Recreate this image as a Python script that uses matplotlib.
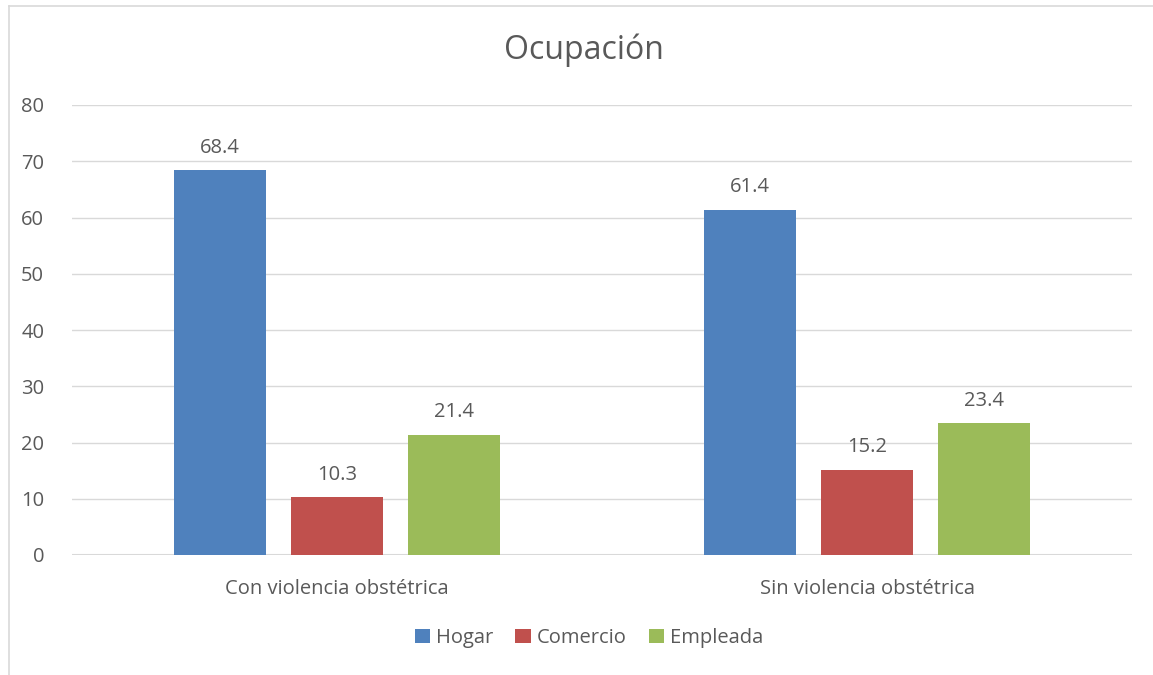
import numpy as np
import matplotlib.pyplot as plt
from matplotlib.lines import Line2D

categories = ["Con violencia obstétrica", "Sin violencia obstétrica"]
series_names = ["Hogar", "Comercio", "Empleada"]
hogar = [68.4, 61.4]
comercio = [10.3, 15.2]
empleada = [21.4, 23.4]
yticks = [0, 10, 20, 30, 40, 50, 60, 70, 80]

colors = ["#4F81BD", "#C0504D", "#9BBB59"]
text_col = "#595959"
grid_col = "#D9D9D9"

plt.rcParams['font.family'] = ['Open Sans', 'DejaVu Sans']

fig = plt.figure(figsize=(11.53, 6.75), dpi=100)
ax = fig.add_axes([72/1153, 1-555/675, (1132-72)/1153, (555-105)/675])

x = np.arange(len(categories))
width = 0.1736
step = 0.2208
for i, (name, vals) in enumerate(zip(series_names, [hogar, comercio, empleada])):
    pos = x + (i - 1) * step
    bars = ax.bar(pos, vals, width, color=colors[i], label=name, zorder=3)
    for b, v in zip(bars, vals):
        ax.text(b.get_x() + b.get_width()/2, v + 2.2, "%.1f" % v,
                ha='center', va='bottom', fontsize=14.5, color=text_col)

ax.set_xlim(-0.5, 1.5)
ax.set_ylim(0, 80)
ax.set_yticks(yticks)
ax.set_xticks(x)
ax.set_xticklabels(categories)
ax.tick_params(axis='both', length=0, labelsize=14.5, labelcolor=text_col)
ax.tick_params(axis='x', pad=17)
ax.tick_params(axis='y', pad=20)
ax.grid(axis='y', color=grid_col, linewidth=1, zorder=0)
for s in ax.spines.values():
    s.set_visible(False)
ax.axhline(0, color=grid_col, linewidth=1.5, zorder=2)

fig.text(584/1153, 1-50/675, "Ocupación", ha='center', va='center',
         fontsize=23, color=text_col)

leg = fig.legend(loc='center', bbox_to_anchor=(589/1153, 1-638/675), ncol=3,
                 frameon=False, fontsize=14.5, handlelength=0.75, handleheight=0.75,
                 handletextpad=0.3, columnspacing=1.1)
for t in leg.get_texts():
    t.set_color(text_col)

# chart frame (left and top edges visible)
fig.add_artist(Line2D([9/1153, 9/1153], [0, 1-6/675], transform=fig.transFigure,
                      color=grid_col, linewidth=1.2))
fig.add_artist(Line2D([9/1153, 1], [1-6/675, 1-6/675], transform=fig.transFigure,
                      color=grid_col, linewidth=1.2))

fig.savefig("out.png", dpi=100)
